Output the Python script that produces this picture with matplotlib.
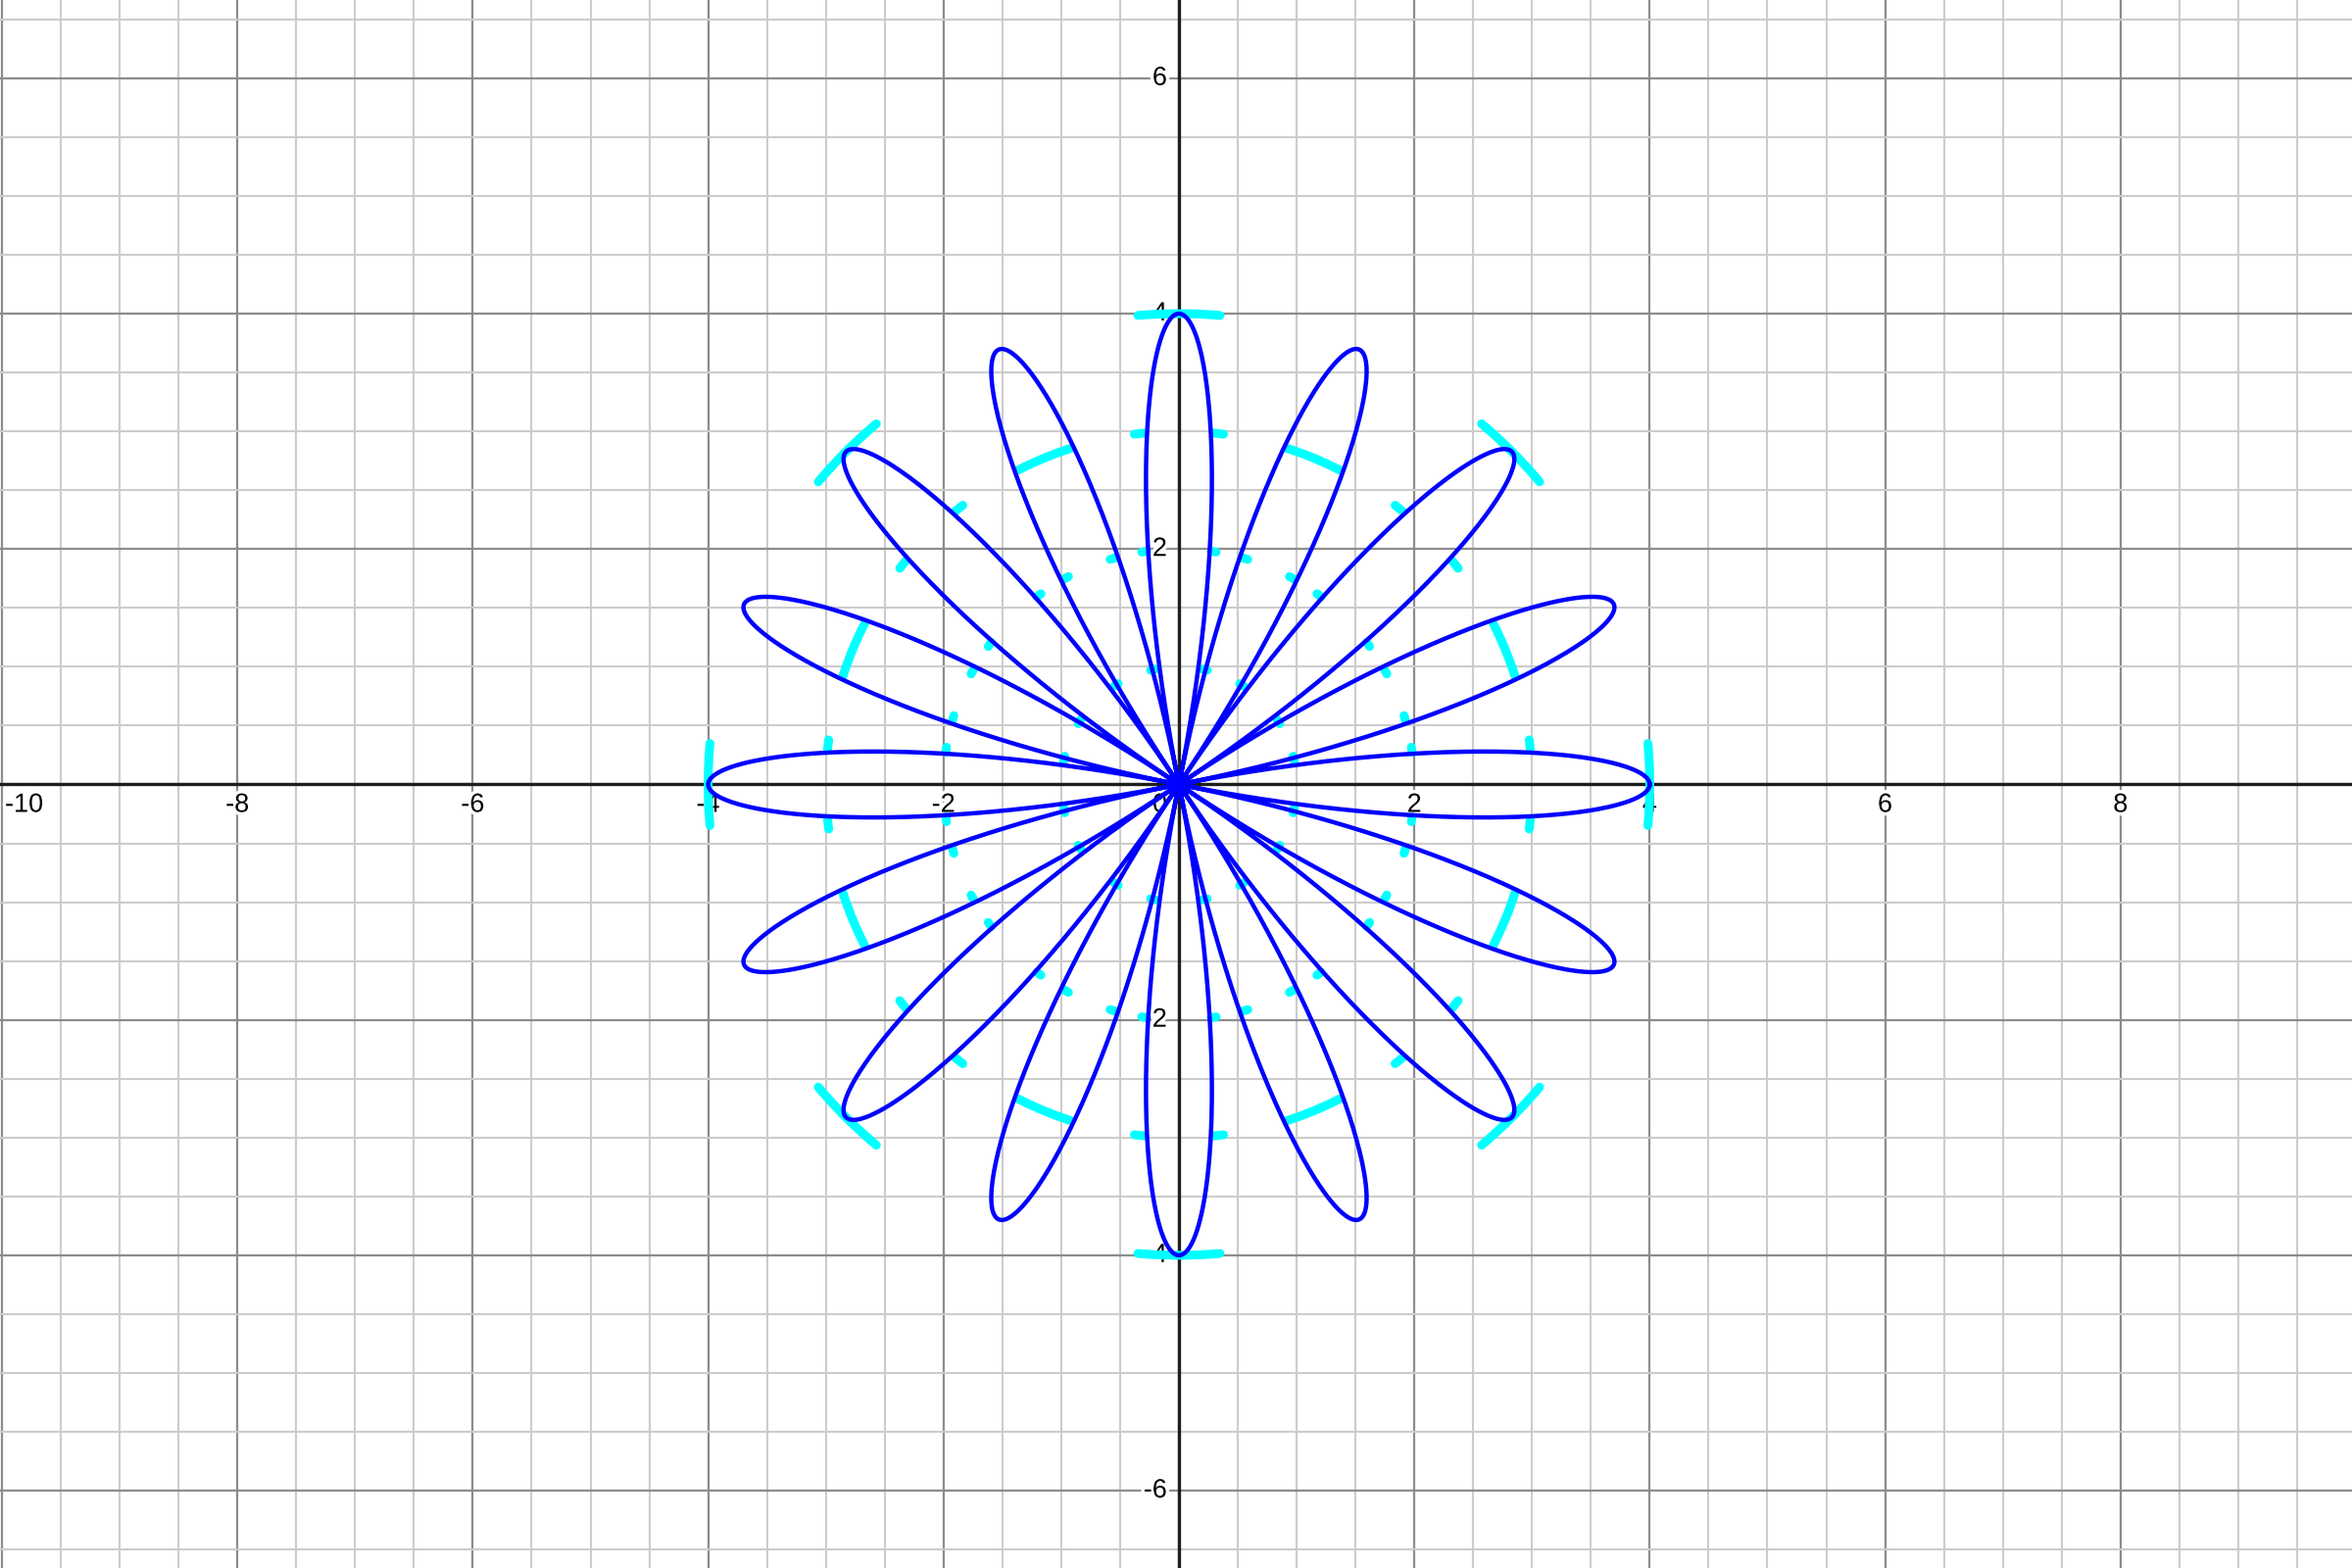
import numpy as np
import matplotlib
matplotlib.use('Agg')
import matplotlib.pyplot as plt
from matplotlib import patheffects as pe

plt.rcParams['font.family'] = ['Liberation Sans', 'DejaVu Sans']

# rose curve r = a * cos(k * theta)
ROSE_A = 4
ROSE_K = 8

X_LABELS = [-10, -8, -6, -4, -2, 2, 4, 6, 8]
Y_LABELS = [-6, -4, -2, 2, 4, 6]

# cyan arcs (degrees relative to each petal's axis)
MAJOR_PETALS = [0, 45, 90, 135, 180, 225, 270, 315]
MAJOR_ARC_R = [4, 3, 3, 2, 2, 2, 2, 1, 1]
MAJOR_ARC_START = [-5.0, 5.65, -7.25, 7.9, -9.1, 15.8, -17.0, 11.5, -13.9]
MAJOR_ARC_END = [5.0, 7.25, -5.65, 9.1, -7.9, 17.0, -15.8, 13.9, -11.5]

MINOR_PETALS = [22.5, 67.5, 112.5, 157.5, 202.5, 247.5, 292.5, 337.5]
MINOR_ARC_R = [3]
MINOR_ARC_START = [-4.6]
MINOR_ARC_END = [4.6]

XMIN, XMAX = -10.017, 9.967
YMIN, YMAX = -6.657, 6.665

fig = plt.figure(figsize=(24, 16), dpi=100)
ax = fig.add_axes([0, 0, 1, 1])

# grid: minor every 0.5, major every 2
ax.set_xticks(np.arange(-10, 11, 2))
ax.set_yticks(np.arange(-6, 7, 2))
ax.set_xticks(np.arange(-10, 10.5, 0.5), minor=True)
ax.set_yticks(np.arange(-6.5, 7, 0.5), minor=True)
ax.set_xlim(XMIN, XMAX)
ax.set_ylim(YMIN, YMAX)
ax.grid(which='minor', color='#cccccc', lw=1.5)
ax.grid(which='major', color='#8c8c8c', lw=1.6)
ax.tick_params(which='both', length=0, labelbottom=False, labelleft=False)
for s in ax.spines.values():
    s.set_visible(False)
ax.set_axisbelow(True)

ax.axhline(0, color='#1e1e1e', lw=2.4, zorder=2)
ax.axvline(0, color='#1e1e1e', lw=2.4, zorder=2)

halo = [pe.withStroke(linewidth=5, foreground='white')]
lab = dict(fontsize=19.5, color='black', textcoords='offset pixels',
           zorder=3, path_effects=halo)

for v in X_LABELS:
    if v == X_LABELS[0]:
        # leftmost label is pushed inside the view
        ax.annotate(str(v), (XMIN, 0), xytext=(5, -8),
                    ha='left', va='top', **lab)
    else:
        ax.annotate(str(v), (v, 0), xytext=(0, -8), ha='center', va='top', **lab)
ax.annotate('0', (0, 0), xytext=(-12, -8), ha='right', va='top', **lab)
for v in Y_LABELS:
    ax.annotate(str(v), (0, v), xytext=(-12, 0), ha='right', va='center', **lab)

# cyan arcs
for c in MAJOR_PETALS:
    for r, a0, a1 in zip(MAJOR_ARC_R, MAJOR_ARC_START, MAJOR_ARC_END):
        t = np.radians(np.linspace(c + a0, c + a1, 40))
        ax.plot(r * np.cos(t), r * np.sin(t), color='#00ffff', lw=6.5,
                solid_capstyle='round', zorder=5)
for c in MINOR_PETALS:
    for r, a0, a1 in zip(MINOR_ARC_R, MINOR_ARC_START, MINOR_ARC_END):
        t = np.radians(np.linspace(c + a0, c + a1, 40))
        ax.plot(r * np.cos(t), r * np.sin(t), color='#00ffff', lw=6.5,
                solid_capstyle='round', zorder=5)

# rose
theta = np.linspace(0, 2 * np.pi, 6001)
r = ROSE_A * np.cos(ROSE_K * theta)
ax.plot(r * np.cos(theta), r * np.sin(theta), color='#0000ff', lw=3.2,
        solid_joinstyle='round', zorder=6)

fig.savefig('out.png', dpi=100)
